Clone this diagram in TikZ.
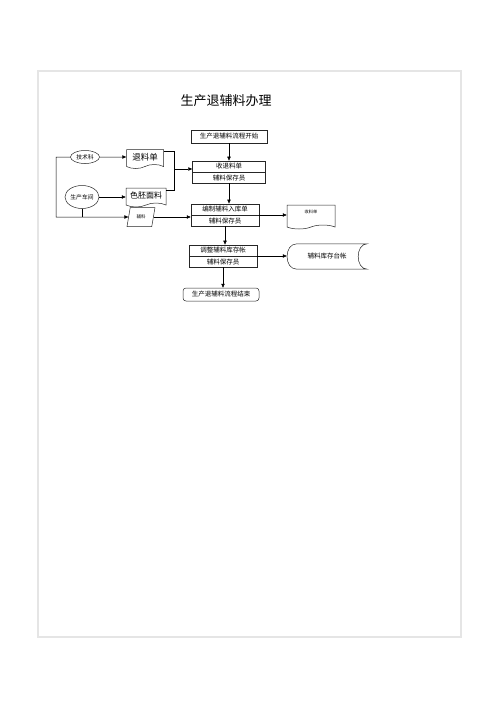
\documentclass[tikz,border=0pt]{standalone}
\usepackage{fontspec}
\setmainfont{Noto Sans CJK SC}
\usetikzlibrary{positioning, arrows.meta, shapes.multipart, shapes.geometric, shapes.symbols}

\tikzset{
  flow/.style={draw=black!85, line width=0.5pt},
  arr/.style={-{Triangle[length=4pt,width=3.4pt]}, line width=0.5pt},
  term/.style={flow, rectangle, minimum width=76pt, minimum height=13pt, inner sep=1pt, font=\fontsize{6.5}{7}\selectfont},
  box/.style={flow, rectangle split, rectangle split parts=2, minimum width=#1, inner ysep=2.3pt, font=\fontsize{6.5}{7}\selectfont},
  box/.default=70pt,
  docu/.style={flow, tape, tape bend top=none, tape bend height=4pt, inner sep=1pt, minimum width=#1, minimum height=19pt},
  docu/.default=38pt,
  oval/.style={flow, ellipse, inner sep=0pt, font=\fontsize{5.8}{6}\selectfont}
}

\begin{document}
\begin{tikzpicture}[x=1pt, y=-1pt]
    \useasboundingbox (0,0) rectangle (500,707);
    % page frame
    \draw[black!10, line width=1.2pt] (38,71) rectangle (461,637);

    % title
    \node[font=\fontsize{13}{15}\selectfont] (title) at (226,101) {生产退辅料办理};

    % main column
    \node[term] (start) at (229,136.5) {生产退辅料流程开始};
    \node[box=73pt] (recv) at (229,172) {收退料单\nodepart{two}辅料保存员};
    \node[box=68pt] (entry) at (225,215) {编制辅料入库单\nodepart{two}辅料保存员};
    \node[box=68pt] (adjust) at (223,256) {调整辅料库存帐\nodepart{two}辅料保存员};
    \node[term, rounded corners=3pt] (finish) at (221,294.5) {生产退辅料流程结束};

    \draw[arr] (start.south) -- (start.south |- recv.north);
    \draw[arr] (recv.south) -- (recv.south |- entry.north);
    \draw[arr] (entry.south) -- (entry.south |- adjust.north);
    \draw[arr] (adjust.south) -- (adjust.south |- finish.north);

    % sources on the left
    \node[oval, minimum width=29pt, minimum height=13pt] (tech) at (85,157) {技术科};
    \node[oval, minimum width=34pt, minimum height=23pt] (shop) at (82,197) {生产车间};

    \node[docu=37pt, font=\fontsize{8.5}{9}\selectfont] (slip) at (145,157) {退料单};
    \node[docu=40pt, font=\fontsize{8}{9}\selectfont] (fabric) at (146,195.5) {色胚面料};
    \node[flow, trapezium, trapezium left angle=72, trapezium right angle=108, trapezium stretches=true,
          minimum width=28pt, minimum height=19pt, inner sep=0pt, font=\fontsize{4.5}{5}\selectfont] (mat) at (141,217) {辅料};

    \coordinate (corner) at (56,217);
    \coordinate (join) at (174,169);

    \draw[arr] (tech) -- (slip);
    \draw[arr] (shop.east) -- (shop.east -| fabric.west);
    \draw[arr] (tech.west) -| (corner) -- (mat.west);
    \draw (shop.south) -- (shop.south |- corner);
    \draw[arr] (mat.east) -- (mat.east -| entry.west);

    % both documents go to the receiving step
    \draw ([yshift=6pt]slip.east) -| (join);
    \draw ([yshift=5pt]fabric.east) -| (join);
    \draw[arr] (join) -- (join -| recv.west);

    % outputs on the right
    \node[docu=48pt, minimum height=24pt, font=\fontsize{4.2}{5}\selectfont, text depth=6pt] (form) at (311,215) {收料单};
    \draw[arr] (entry.east) -- (entry.east -| form.west);

    \node[minimum width=80pt, minimum height=25pt, font=\fontsize{6.5}{7}\selectfont] (ledger) at (327,256.5) {辅料库存台帐};
    \draw[flow] ([xshift=10pt]ledger.north west) -- (ledger.north east)
        .. controls +(-12pt,0) and +(-12pt,0) .. (ledger.south east)
        -- ([xshift=10pt]ledger.south west)
        .. controls +(-13pt,0) and +(-13pt,0) .. ([xshift=10pt]ledger.north west);
    \draw[arr] (adjust.east) -- (adjust.east -| ledger.west);
\end{tikzpicture}
\end{document}
